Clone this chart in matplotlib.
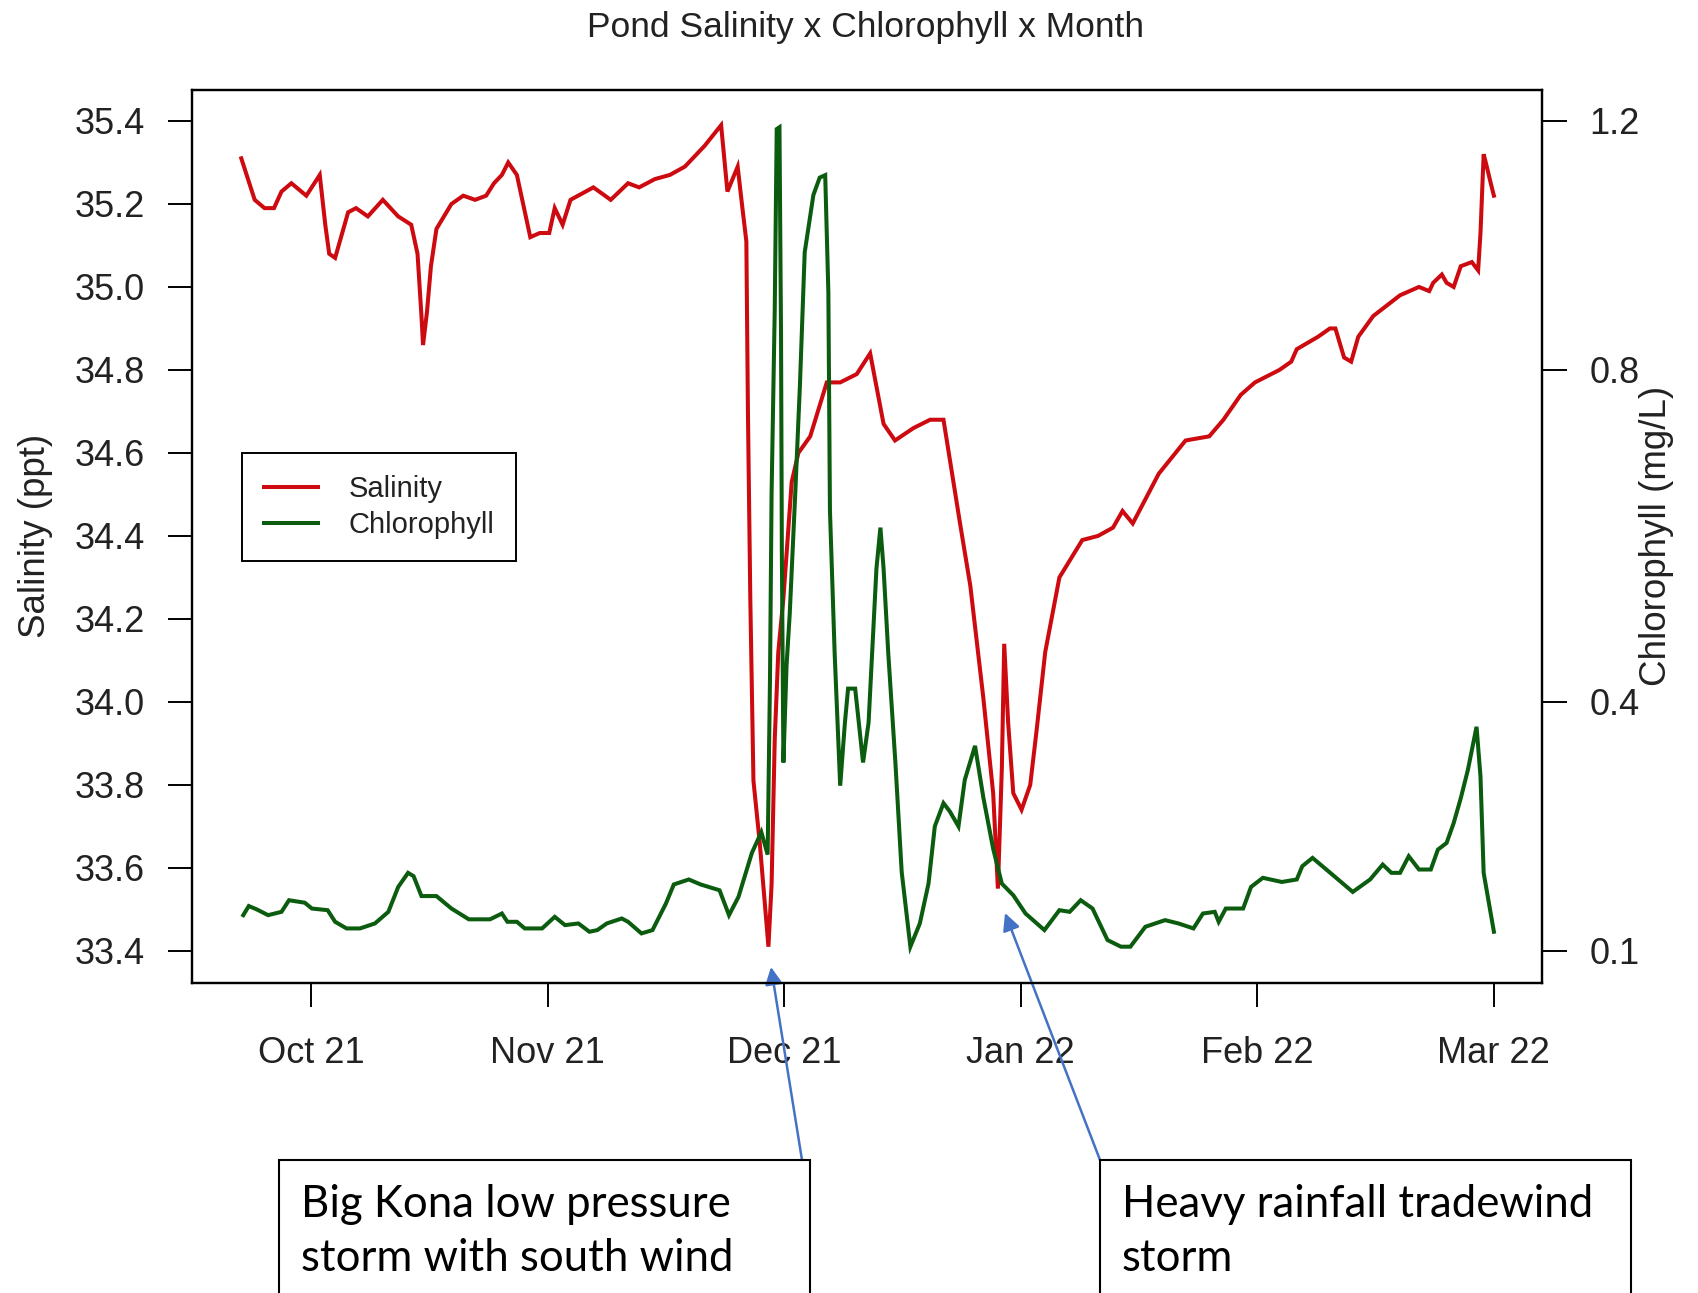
import numpy as np
import matplotlib
matplotlib.use("Agg")
import matplotlib.pyplot as plt
from matplotlib.lines import Line2D
from matplotlib.patches import Rectangle

plt.rcParams["font.family"] = ["Liberation Sans", "DejaVu Sans"]

# ---- data -------------------------------------------------------------
# day index counted from the first sample (late September 2021)
sal_days = [0.15, 1.85, 3.1, 4.3, 5.25, 6.5, 8.4, 10.1, 10.8, 11.3, 12.05, 13.7,
            14.7, 16.2, 18.1, 20.05, 21.7, 22.5, 23.0, 23.2, 23.7, 24.2, 24.9,
            26.8, 28.3, 29.8, 31.2, 32.2, 33.2, 34.0, 35.1, 36.8, 38.0, 39.2,
            39.9, 40.9, 41.9, 44.8, 47.0, 49.2, 50.6, 52.6, 54.5, 56.4, 58.9,
            61.0, 61.8, 63.1, 63.7, 64.2, 64.4, 64.7, 65.1, 65.9, 67.0, 67.4,
            67.8, 68.25, 68.9, 69.95, 70.8, 72.3, 74.4, 76.1, 78.2, 79.9, 81.6,
            83.05, 85.4, 87.5, 89.2, 91.3, 92.6, 94.25, 95.5, 96.1, 96.6, 96.9,
            97.4, 98.05, 99.1, 100.2, 101.0, 102.1, 103.9, 106.8, 108.8, 110.7,
            111.9, 113.2, 116.5, 119.9, 122.9, 124.7, 126.9, 128.7, 131.8,
            133.3, 134.0, 136.7, 138.2, 138.9, 140.0, 140.9, 141.8, 143.7,
            147.1, 149.5, 150.8, 151.3, 152.4, 153.0, 153.9, 154.8, 156.2,
            157.0, 157.3, 157.7, 158.1, 158.6, 159.0]
salinity = [35.31, 35.21, 35.19, 35.19, 35.23, 35.25, 35.22, 35.27, 35.15, 35.08,
            35.07, 35.18, 35.19, 35.17, 35.21, 35.17, 35.15, 35.08, 34.93, 34.86,
            34.94, 35.05, 35.14, 35.20, 35.22, 35.21, 35.22, 35.25, 35.27, 35.30,
            35.27, 35.12, 35.13, 35.13, 35.19, 35.15, 35.21, 35.24, 35.21, 35.25,
            35.24, 35.26, 35.27, 35.29, 35.34, 35.39, 35.23, 35.29, 35.19, 35.11,
            34.70, 34.25, 33.81, 33.66, 33.41, 33.56, 33.91, 34.12, 34.25, 34.53,
            34.60, 34.64, 34.77, 34.77, 34.79, 34.84, 34.67, 34.63, 34.66, 34.68,
            34.68, 34.43, 34.28, 34.01, 33.78, 33.55, 33.84, 34.14, 33.95, 33.78,
            33.74, 33.80, 33.93, 34.12, 34.30, 34.39, 34.40, 34.42, 34.46, 34.43,
            34.55, 34.63, 34.64, 34.68, 34.74, 34.77, 34.80, 34.82, 34.85, 34.88,
            34.90, 34.90, 34.83, 34.82, 34.88, 34.93, 34.98, 35.00, 34.99, 35.01,
            35.03, 35.01, 35.00, 35.05, 35.06, 35.04, 35.13, 35.32, 35.29, 35.25,
            35.22]

chl_days = [0.4, 1.1, 2.1, 3.55, 5.25, 6.2, 8.2, 9.1, 11.1, 12.05, 13.5, 15.2,
            17.1, 18.8, 20.05, 21.3, 22.0, 23.0, 24.9, 26.8, 29.0, 31.7, 33.2,
            33.9, 35.1, 36.1, 38.3, 39.9, 41.2, 42.9, 44.3, 45.3, 46.5, 48.4,
            49.2, 50.9, 52.3, 54.0, 55.0, 56.9, 58.4, 60.8, 62.0, 63.2, 64.9,
            66.1, 66.9, 67.2, 67.4, 67.8, 68.05, 68.4, 68.6, 68.7, 68.9, 69.3,
            69.7, 70.4, 71.0, 71.6, 72.7, 73.5, 74.2, 74.6, 74.8, 75.4, 76.1,
            76.7, 77.1, 78.0, 79.0, 79.7, 80.7, 81.2, 81.6, 82.2, 83.1, 83.9,
            85.0, 86.2, 87.3, 88.1, 89.2, 90.0, 91.1, 91.9, 93.2, 94.25, 95.5,
            96.6, 98.05, 99.6, 102.0, 103.9, 105.2, 106.6, 108.1, 110.0, 111.7,
            112.9, 114.8, 117.3, 119.0, 120.9, 122.1, 123.6, 124.1, 125.0, 127.2,
            128.2, 129.7, 132.1, 134.0, 134.7, 136.0, 138.0, 141.1, 143.3, 144.9,
            146.0, 147.1, 148.2, 149.5, 151.0, 151.9, 153.0, 153.9, 154.8, 155.7,
            156.8, 157.3, 157.7, 159.0]
chlorophyll = [0.143, 0.154, 0.150, 0.143, 0.147, 0.161, 0.158, 0.151, 0.149,
               0.135, 0.127, 0.127, 0.133, 0.147, 0.177, 0.194, 0.190, 0.166,
               0.166, 0.151, 0.138, 0.138, 0.145, 0.135, 0.135, 0.127, 0.127,
               0.141, 0.131, 0.133, 0.123, 0.125, 0.133, 0.139, 0.135, 0.121,
               0.125, 0.157, 0.180, 0.186, 0.180, 0.173, 0.143, 0.165, 0.218,
               0.243, 0.216, 0.430, 0.651, 0.897, 1.187, 1.190, 0.851, 0.582,
               0.327, 0.444, 0.506, 0.651, 0.783, 0.989, 1.081, 1.109, 1.113,
               0.925, 0.631, 0.458, 0.299, 0.375, 0.416, 0.416, 0.327, 0.375,
               0.561, 0.610, 0.561, 0.458, 0.327, 0.195, 0.105, 0.133, 0.181,
               0.250, 0.278, 0.268, 0.250, 0.306, 0.347, 0.285, 0.223, 0.181,
               0.167, 0.145, 0.125, 0.149, 0.147, 0.161, 0.151, 0.113, 0.105,
               0.105, 0.129, 0.137, 0.133, 0.127, 0.145, 0.147, 0.135, 0.151,
               0.151, 0.177, 0.188, 0.183, 0.186, 0.202, 0.212, 0.196, 0.171,
               0.186, 0.204, 0.194, 0.194, 0.214, 0.198, 0.198, 0.222, 0.230,
               0.254, 0.284, 0.318, 0.370, 0.310, 0.194, 0.123]

month_days = [9, 39, 69, 99, 129, 159]
month_labels = ["Oct 21", "Nov 21", "Dec 21", "Jan 22", "Feb 22", "Mar 22"]
sal_ticks = [33.4, 33.6, 33.8, 34.0, 34.2, 34.4, 34.6, 34.8, 35.0, 35.2, 35.4]
chl_ticks = [0.1, 0.4, 0.8, 1.2]

# the right-hand chlorophyll axis is piecewise linear against the salinity axis
chl_knots = [0.0, 0.1, 0.4, 0.8, 1.2, 1.4]
sal_knots = [33.2, 33.4, 34.0, 34.8, 35.4, 35.7]


def chl_to_axis(v):
    return np.interp(v, chl_knots, sal_knots)


def axis_to_chl(v):
    return np.interp(v, sal_knots, chl_knots)


RED = "#CC0A0F"
GREEN = "#0B5C0E"
LW = 2.9

# ---- figure -------------------------------------------------------------
W, H = 1698, 1293
fig = plt.figure(figsize=(W / 100, H / 100), dpi=100)
ax = fig.add_axes([192 / W, 1 - 983 / H, (1542 - 192) / W, (983 - 90) / H])

sal_lo, sal_hi = 33.3225, 35.4747
ax.plot(sal_days, salinity, color=RED, lw=LW, solid_joinstyle="miter")
ax.set_xlim(-6.1, 165.1)
ax.set_ylim(sal_lo, sal_hi)
ax.set_xticks(month_days)
ax.set_xticklabels(month_labels)
ax.set_yticks(sal_ticks)
ax.set_yticklabels([f"{t:.1f}" for t in sal_ticks])

ax2 = ax.twinx()
ax2.set_yscale("function", functions=(chl_to_axis, axis_to_chl))
ax2.plot(chl_days, chlorophyll, color=GREEN, lw=LW, solid_joinstyle="miter")
ax2.set_ylim(float(axis_to_chl(sal_lo)), float(axis_to_chl(sal_hi)))
ax2.set_yticks(chl_ticks)
ax2.set_yticklabels([f"{t:.1f}" for t in chl_ticks])
ax2.yaxis.set_minor_locator(matplotlib.ticker.NullLocator())

for a in (ax, ax2):
    for s in a.spines.values():
        s.set_linewidth(1.6)
        s.set_color("black")
ax.tick_params(axis="both", direction="out", length=17, width=1.4,
               colors="black", labelcolor="#222222")
ax.tick_params(axis="x", pad=21, labelsize=26)
ax.tick_params(axis="y", pad=17, labelsize=26)
ax2.tick_params(axis="y", direction="out", length=18, width=1.4, pad=16,
                labelsize=26, labelcolor="#222222")

fig.text(866 / W, 1 - 27 / H, "Pond Salinity x Chlorophyll x Month",
         ha="center", va="center", fontsize=25.5, color="#222222")
fig.text(36 / W, 1 - 536 / H, "Salinity (ppt)", rotation=90,
         ha="center", va="center", fontsize=26.5, color="#222222")
fig.text(1657 / W, 1 - 536 / H, "Chlorophyll (mg/L)", rotation=90,
         ha="center", va="center", fontsize=26.5, color="#222222")

handles = [Line2D([], [], color=RED, lw=LW), Line2D([], [], color=GREEN, lw=LW)]
leg = ax.legend(handles, ["Salinity", "Chlorophyll"], loc="upper left",
                bbox_to_anchor=((242 - 192) / 1350, (983 - 453) / 893),
                borderaxespad=0, fontsize=21, frameon=True, fancybox=False,
                edgecolor="black", framealpha=1, borderpad=0.75,
                handlelength=1.85, handletextpad=1.05, labelspacing=0.28)
leg.get_frame().set_linewidth(1.4)
for t in leg.get_texts():
    t.set_color("#222222")

# ---- storm call-outs -----------------------------------------------------
BLUE = "#4472C4"
boxes = [
    (279, "Big Kona low pressure\nstorm with south wind", (802, 1160), (771, 967)),
    (1100, "Heavy rainfall tradewind\nstorm", (1100, 1160), (1005, 913)),
]
for x0, txt, tail, head in boxes:
    fig.add_artist(Rectangle((x0 / W, -0.05), 531 / W, 0.05 + 1 - 1160 / H,
                             transform=fig.transFigure, fill=False,
                             edgecolor="black", lw=1.5, clip_on=False))
    fig.text((x0 + 22) / W, 1 - 1184 / H, txt, ha="left", va="top",
             fontsize=31.5, family=["Lato", "DejaVu Sans"], color="black",
             linespacing=1.38)
    ax.annotate("", xy=(head[0] / W, 1 - head[1] / H),
                xytext=(tail[0] / W, 1 - tail[1] / H),
                xycoords="figure fraction", textcoords="figure fraction",
                arrowprops=dict(arrowstyle="-|>", color=BLUE, lw=1.8,
                                mutation_scale=26, shrinkA=0, shrinkB=0),
                annotation_clip=False)

fig.savefig("out.png", dpi=100, facecolor="white")
